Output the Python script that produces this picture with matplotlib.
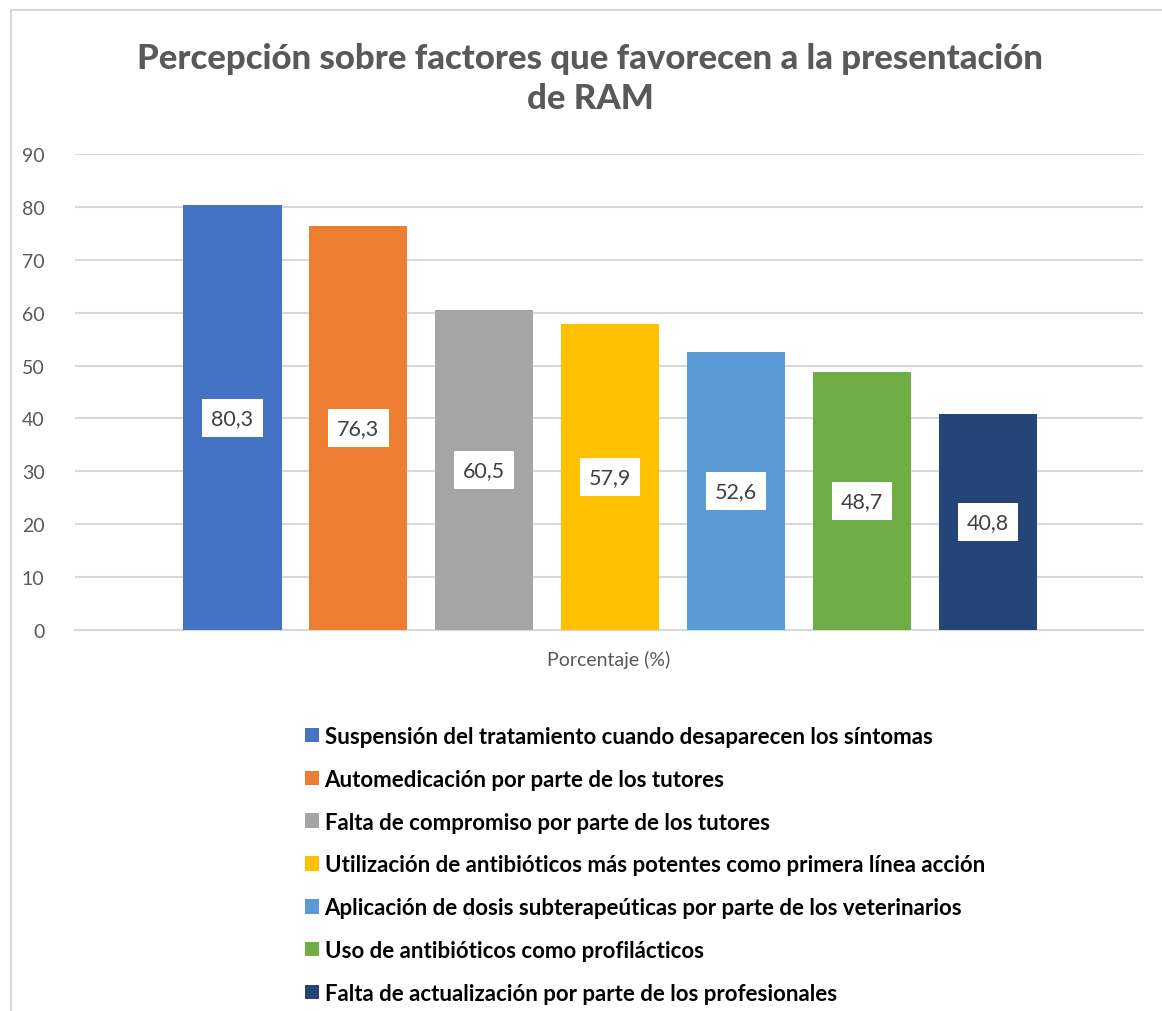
import matplotlib.pyplot as plt
from matplotlib.patches import Rectangle

categorias = [
    "Suspensión del tratamiento cuando desaparecen los síntomas",
    "Automedicación por parte de los tutores",
    "Falta de compromiso por parte de los tutores",
    "Utilización de antibióticos más potentes como primera línea acción",
    "Aplicación de dosis subterapeúticas por parte de los veterinarios",
    "Uso de antibióticos como profilácticos",
    "Falta de actualización por parte de los profesionales",
]
valores = [80.3, 76.3, 60.5, 57.9, 52.6, 48.7, 40.8]
colores = ["#4472C4", "#ED7D31", "#A5A5A5", "#FFC000", "#5B9BD5", "#70AD47", "#264478"]
etiquetas = ["80,3", "76,3", "60,5", "57,9", "52,6", "48,7", "40,8"]

plt.rcParams['font.family'] = ['Lato', 'DejaVu Sans']
gris = "#595959"

fig = plt.figure(figsize=(11.62, 10.12), dpi=100)
fig.patches.append(Rectangle((11/1162, -0.01), 1.1, 1 - 11/1012 + 0.01,
                             transform=fig.transFigure, fill=False,
                             edgecolor="#d9d9d9", linewidth=1.5))

ax = fig.add_axes([75/1162, 1 - 631/1012, (1143 - 75)/1162, (631 - 155)/1012])

n = len(valores)
pos = [i - (n - 1) / 2 for i in range(n)]
barras = ax.bar(pos, valores, width=0.78, color=colores, zorder=3)
for b, v, t in zip(barras, valores, etiquetas):
    ax.text(b.get_x() + b.get_width() / 2, v / 2, t, ha="center", va="center",
            fontsize=15.5, color="#404040", zorder=4,
            bbox=dict(facecolor="white", edgecolor="none", pad=6.5))

ax.set_xlim(-4.25, 4.23)
ax.set_ylim(0, 90)
ax.set_yticks(range(0, 91, 10))
ax.set_xticks([])
ax.grid(axis="y", color="#d9d9d9", linewidth=1.5, zorder=0)
for s in ["top", "right", "left"]:
    ax.spines[s].set_visible(False)
ax.spines["bottom"].set_color("#d9d9d9")
ax.spines["bottom"].set_linewidth(1.5)
ax.tick_params(axis="y", length=0, labelsize=14, labelcolor=gris, pad=22)
ax.set_xlabel("Porcentaje (%)", fontsize=14, color=gris, labelpad=14)

fig.text(590/1162, 1 - 79/1012, "Percepción sobre factores que favorecen a la presentación\nde RAM",
         ha="center", va="center", fontsize=25, fontweight="black", color=gris,
         linespacing=1.3)

handles = [Rectangle((0, 0), 1, 1, facecolor=c) for c in colores]
fig.legend(handles, categorias, loc="upper left", bbox_to_anchor=(285/1162, 1 - 707/1012),
           frameon=False, handlelength=0.63, handleheight=0.63, handletextpad=0.25,
           labelspacing=0.98, prop={"size": 16, "weight": "bold"})

fig.savefig("out.png", dpi=100, facecolor="white")
